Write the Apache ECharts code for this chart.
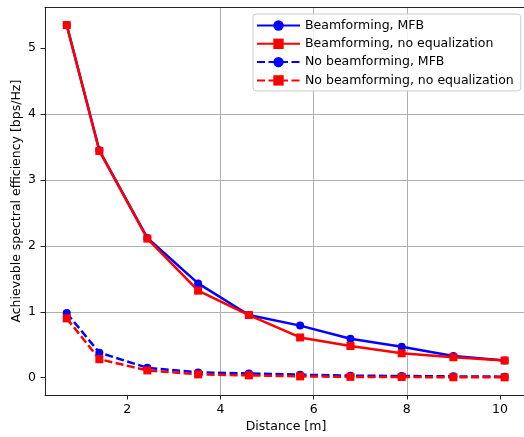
<!DOCTYPE html>
<html>
<head>
<meta charset="utf-8">
<script src="https://cdn.jsdelivr.net/npm/echarts@6/dist/echarts.min.js"></script>
<style>
html,body{margin:0;padding:0;background:#fff;}
#c{width:524px;height:437px;}
</style>
</head>
<body>
<div id="c"></div>
<script>
const xValues = [0.7, 1.4, 2.43, 3.52, 4.61, 5.71, 6.79, 7.89, 9.0, 10.1];
const bfMfb  = [5.35, 3.45, 2.12, 1.43, 0.95, 0.79, 0.59, 0.47, 0.33, 0.26];
const bfNoEq = [5.35, 3.44, 2.11, 1.32, 0.95, 0.61, 0.48, 0.37, 0.31, 0.26];
const nbMfb  = [0.98, 0.38, 0.15, 0.08, 0.065, 0.045, 0.03, 0.025, 0.02, 0.015];
const nbNoEq = [0.90, 0.28, 0.11, 0.05, 0.035, 0.02, 0.012, 0.01, 0.006, 0.005];
const xTicks = [2, 4, 6, 8, 10];
const yTicks = [0, 1, 2, 3, 4, 5];
const seriesNames = ['Beamforming, MFB', 'Beamforming, no equalization', 'No beamforming, MFB', 'No beamforming, no equalization'];

const FONT = 'DejaVu Sans';
const pairs = ys => xValues.map((x, i) => [x, ys[i]]);

function mk(name, ys, color, symbol, dashed) {
  return {
    name: name,
    type: 'line',
    data: pairs(ys),
    symbol: symbol,
    symbolSize: 8,
    showSymbol: true,
    clip: false,
    itemStyle: {color: color},
    lineStyle: {color: color, width: 2.5, type: dashed ? [8, 3.5] : 'solid'},
    emphasis: {disabled: true},
    animation: false
  };
}

const axisCol = '#222';
const gridLine = {show: true, showMinLine: false, showMaxLine: false, lineStyle: {color: '#b0b0b0', width: 1}};
const chart = echarts.init(document.getElementById('c'), null, {renderer: 'canvas'});
chart.setOption({
  animation: false,
  grid: {left: 45, top: 7.3, right: -3, bottom: 42, containLabel: false, outerBoundsMode: 'none', show: false},
  xAxis: [{
    type: 'value', min: 0.2335, max: 10.58,
    name: 'Distance [m]', nameLocation: 'middle', nameGap: 25, nameMoveOverlap: false,
    nameTextStyle: {fontFamily: FONT, fontSize: 12.5, color: '#000'},
    axisLine: {show: true, onZero: false, lineStyle: {color: axisCol, width: 1}},
    axisTick: {show: true, customValues: xTicks, length: 4.5, lineStyle: {color: axisCol, width: 1}},
    axisLabel: {customValues: xTicks, margin: 8, fontFamily: FONT, fontSize: 12.5, color: '#000'},
    splitLine: gridLine
  }, {
    type: 'value', position: 'top', min: 0.2335, max: 10.58,
    axisLine: {show: true, onZero: false, lineStyle: {color: axisCol, width: 1}},
    axisTick: {show: false}, axisLabel: {show: false}, splitLine: {show: false}
  }],
  yAxis: {
    type: 'value', min: -0.263, max: 5.62,
    name: 'Achievable spectral efficiency [bps/Hz]', nameLocation: 'middle', nameGap: 22, nameMoveOverlap: false,
    nameTextStyle: {fontFamily: FONT, fontSize: 12.5, color: '#000'},
    axisLine: {show: true, onZero: false, lineStyle: {color: axisCol, width: 1}},
    axisTick: {show: true, customValues: yTicks, length: 4.5, lineStyle: {color: axisCol, width: 1}},
    axisLabel: {customValues: yTicks, margin: 9, fontFamily: FONT, fontSize: 12.5, color: '#000'},
    splitLine: gridLine
  },
  legend: {
    show: true, orient: 'vertical', left: 253, top: 14,
    padding: [5, 7, 4, 3], itemGap: 5.3, itemWidth: 43, itemHeight: 13,
    backgroundColor: 'rgba(255,255,255,0.8)', borderColor: '#cccccc', borderWidth: 1, borderRadius: 3,
    textStyle: {fontFamily: FONT, fontSize: 12.5, color: '#000'},
    data: seriesNames
  },
  series: [
    mk(seriesNames[0], bfMfb, '#0000ff', 'circle', false),
    mk(seriesNames[1], bfNoEq, '#ff0000', 'rect', false),
    mk(seriesNames[2], nbMfb, '#0000ff', 'circle', true),
    mk(seriesNames[3], nbNoEq, '#ff0000', 'rect', true)
  ]
});
</script>
</body>
</html>
